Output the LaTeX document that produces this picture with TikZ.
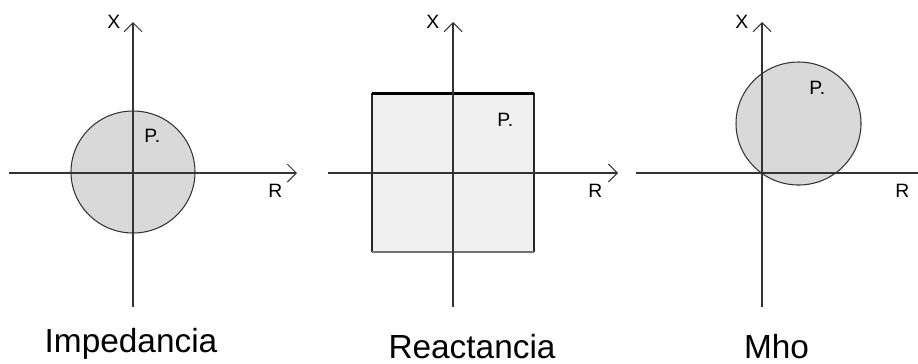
\documentclass[tikz,border=0pt]{standalone}
\usepackage{fontspec}
\setmainfont{Liberation Sans}
\usetikzlibrary{arrows.meta}

\begin{document}
\begin{tikzpicture}[x=0.02cm,y=-0.02cm,
  axis/.style={draw=black!80,line width=0.6pt},
  tip/.style={-{Straight Barb[length=1.8mm,width=3.6mm,line width=0.6pt]}},
  lbl/.style={anchor=base west,inner sep=0pt,font=\fontsize{11}{13}\selectfont},
  title/.style={anchor=base,inner sep=0pt,font=\fontsize{19}{22}\selectfont}]
\useasboundingbox (0,0) rectangle (918,363);

% Impedancia
\draw[draw=black!80,fill=black!15,line width=0.6pt] (133,172) ellipse [x radius=62,y radius=61];
\coordinate (Ib) at (133,307);
\coordinate (It) at (133,22);
\coordinate (Il) at (9,173);
\coordinate (Ir) at (297,173);
\draw[axis,tip] (Ib)--(It);
\draw[axis,tip] (Il)--(Ir);
\node[lbl] (IX) at (107,28) {X};
\node[lbl] (IR) at (268,197) {R};
\node[lbl] (IP) at (144,142) {P.};
\node[title] (Iname) at (131,352) {Impedancia};

% Reactancia
\fill[black!6] (372,93) rectangle (534,252);
\draw[black!85,line width=0.6pt] (372,93)--(372,252);
\draw[black!85,line width=0.6pt] (534,93)--(534,252);
\draw[black!55,line width=0.6pt] (372,252)--(534,252);
\draw[black,line width=1.7pt] (372,93)--(534,93);
\coordinate (Rb) at (453,307);
\coordinate (Rt) at (453,22);
\coordinate (Rl) at (328,173);
\coordinate (Rr) at (618,173);
\draw[axis,tip] (Rb)--(Rt);
\draw[axis,tip] (Rl)--(Rr);
\node[lbl] (RX) at (426,28) {X};
\node[lbl] (RR) at (588,197) {R};
\node[lbl] (RP) at (497,126) {P.};
\node[title] (Rname) at (472,358) {Reactancia};

% Mho
\draw[draw=black!80,fill=black!15,line width=0.6pt] (798.5,123.5) ellipse [x radius=62.5,y radius=61.5];
\coordinate (Mb) at (762,307);
\coordinate (Mt) at (762,22);
\coordinate (Ml) at (636,173);
\coordinate (Mr) at (918,173);
\draw[axis,tip] (Mb)--(Mt);
\draw[axis] (Ml)--(Mr);
\node[lbl] (MX) at (735,28) {X};
\node[lbl] (MR) at (895,197) {R};
\node[lbl] (MP) at (809,94) {P.};
\node[title] (Mname) at (776.5,358) {Mho};
\end{tikzpicture}
\end{document}
